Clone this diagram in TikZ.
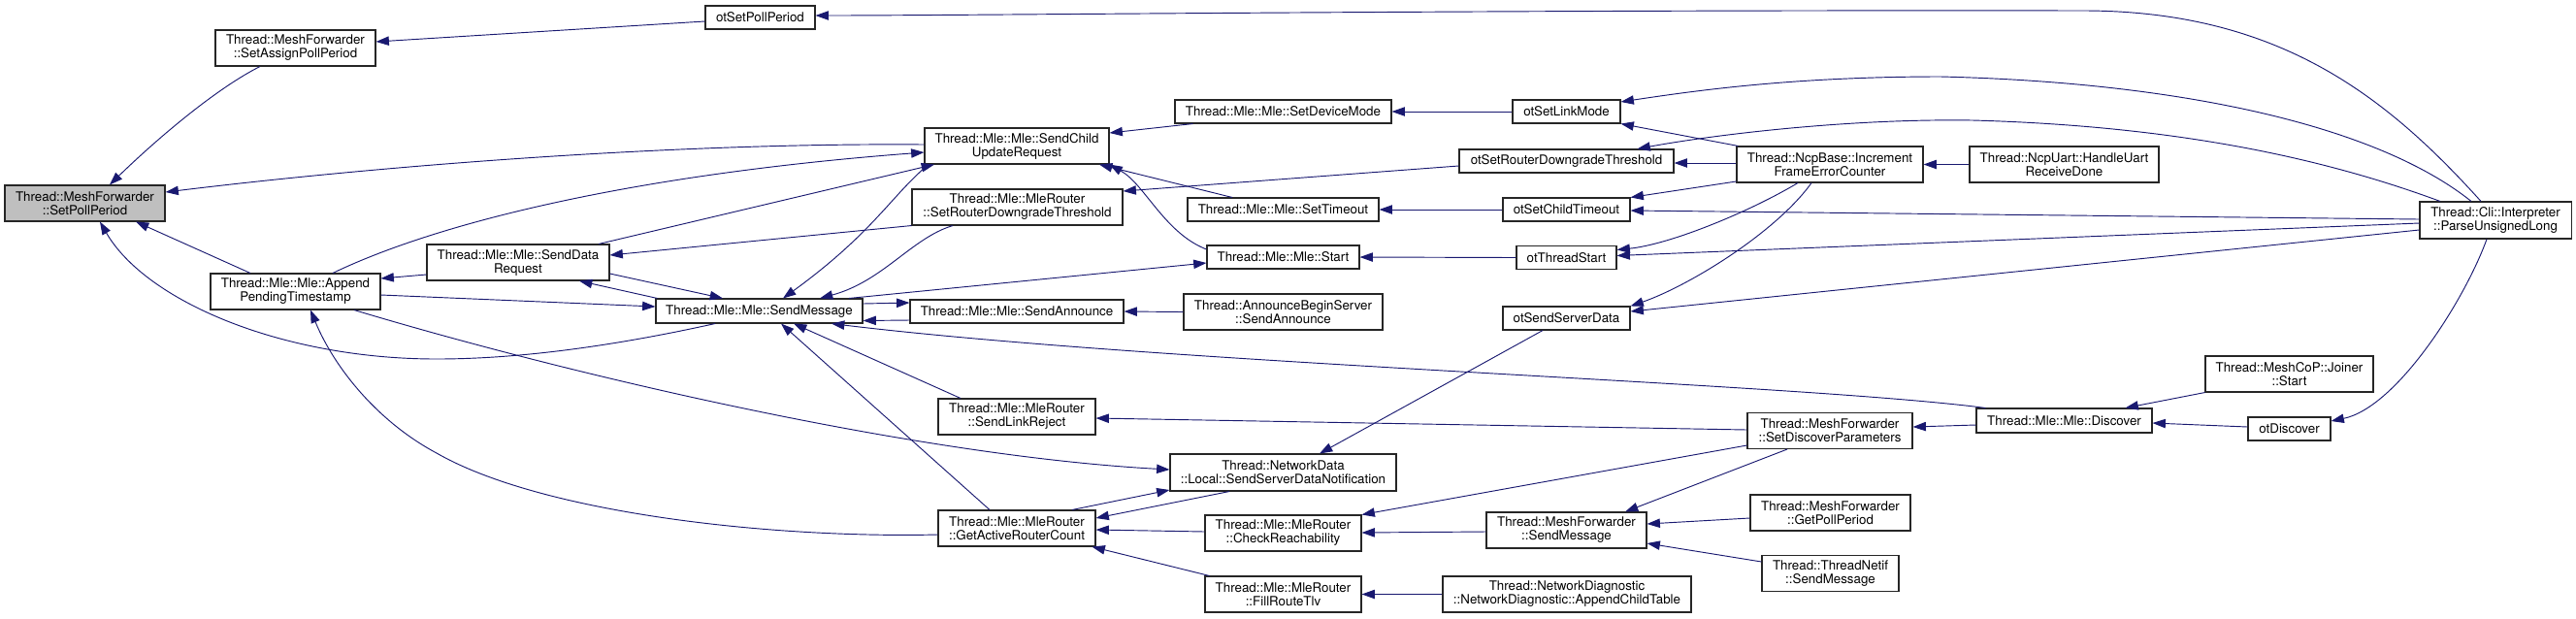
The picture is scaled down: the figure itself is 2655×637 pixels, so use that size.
\documentclass[tikz,border=0pt]{standalone}
\usepackage{fontspec}
\setmainfont{TeX Gyre Heros}
\usetikzlibrary{arrows.meta}
\definecolor{edgeblue}{HTML}{191970}
\definecolor{rootgray}{HTML}{BFBFBF}
\begin{document}
\begin{tikzpicture}[x=0.75pt,y=-0.75pt,
  box/.style n args={2}{draw=black!85, line width=0.8pt, minimum width=#1*0.75pt, minimum height=#2*0.75pt, inner sep=0pt, align=center, font=\fontsize{10}{10.5}\selectfont, text=black},
  e/.style={draw=edgeblue, line width=0.7pt, -{Triangle[length=10pt,width=7pt]}},
]
\useasboundingbox (0,0) rectangle (2655,637);
% nodes
\node[box={165}{37}, fill=rootgray] (spp) at (87.5,209.5) {Thread::MeshForwarder\\::SetPollPeriod};
\node[box={165}{37}] (sapp) at (304.5,49.5) {Thread::MeshForwarder\\::SetAssignPollPeriod};
\node[box={113}{24}] (otspp) at (783.5,18) {otSetPollPeriod};
\node[box={175}{37}] (apt) at (304.5,300.5) {Thread::Mle::Mle::Append\\PendingTimestamp};
\node[box={188}{37}] (sdr) at (534,270.5) {Thread::Mle::Mle::SendData\\Request};
\node[box={213}{25}] (smsg) at (782.5,320.5) {Thread::Mle::Mle::SendMessage};
\node[box={190}{37}] (scur) at (1048,150.5) {Thread::Mle::Mle::SendChild\\UpdateRequest};
\node[box={217}{37}] (srdt) at (1048.5,213.5) {Thread::Mle::MleRouter\\::SetRouterDowngradeThreshold};
\node[box={220}{24}] (sann) at (1048,321) {Thread::Mle::Mle::SendAnnounce};
\node[box={162}{37}] (slr) at (1048,429.5) {Thread::Mle::MleRouter\\::SendLinkReject};
\node[box={162}{37}] (garc) at (1048,544.5) {Thread::Mle::MleRouter\\::GetActiveRouterCount};
\node[box={233}{38}] (ssdn) at (1322.5,487) {Thread::NetworkData\\::Local::SendServerDataNotification};
\node[box={161}{37}] (cr) at (1322.5,549.5) {Thread::Mle::MleRouter\\::CheckReachability};
\node[box={161}{37}] (frt) at (1322.5,612.5) {Thread::Mle::MleRouter\\::FillRouteTlv};
\node[box={223}{24}] (sdm) at (1322.5,115) {Thread::Mle::Mle::SetDeviceMode};
\node[box={197}{24}] (sto) at (1322.5,216) {Thread::Mle::Mle::SetTimeout};
\node[box={157}{24}] (start) at (1322.5,265) {Thread::Mle::Mle::Start};
\node[box={205}{37}] (abs) at (1322.5,321.5) {Thread::AnnounceBeginServer\\::SendAnnounce};
\node[box={111}{24}] (otslm) at (1614.5,115) {otSetLinkMode};
\node[box={221}{24}] (otsrdt) at (1614.5,166) {otSetRouterDowngradeThreshold};
\node[box={131}{24}] (otsct) at (1614.5,216) {otSetChildTimeout};
\node[box={103}{24}] (otts) at (1614.5,265.5) {otThreadStart};
\node[box={131}{24}] (otssd) at (1614.5,328) {otSendServerData};
\node[box={165}{37}] (mfsm) at (1614.5,546.5) {Thread::MeshForwarder\\::SendMessage};
\node[box={256}{37}] (act) at (1615,612.5) {Thread::NetworkDiagnostic\\::NetworkDiagnostic::AppendChildTable};
\node[box={192}{37}] (ifec) at (1886,169.5) {Thread::NcpBase::Increment\\FrameErrorCounter};
\node[box={195}{37}] (hurd) at (2127.5,169.5) {Thread::NcpUart::HandleUart\\ReceiveDone};
\node[box={170}{37}] (sdp) at (1886,444) {Thread::MeshForwarder\\::SetDiscoverParameters};
\node[box={181}{25}] (disc) at (2127.5,433.5) {Thread::Mle::Mle::Discover};
\node[box={165}{37}] (gpp) at (1886.5,528.5) {Thread::MeshForwarder\\::GetPollPeriod};
\node[box={141}{37}] (tnsm) at (1886.5,591) {Thread::ThreadNetif\\::SendMessage};
\node[box={156}{38}] (pul) at (2572,227) {Thread::Cli::Interpreter\\::ParseUnsignedLong};
\node[box={173}{37}] (js) at (2359.5,385.5) {Thread::MeshCoP::Joiner\\::Start};
\node[box={85}{24}] (otd) at (2359.5,442) {otDiscover};
% edges
\draw[e] ([shift={(-36.5,0)}]sapp.south) .. controls (225,90) and (165,140) .. ([shift={(25.5,0)}]spp.north);
\draw[e] ([shift={(0,-1.5)}]scur.west) .. controls (700,147) and (400,170) .. ([shift={(0,-11.5)}]spp.east);
\draw[e] ([shift={(-46.5,0)}]apt.north) -- ([shift={(52.5,0)}]spp.south);
\draw[e] ([shift={(-45.5,0)}]smsg.south) .. controls (640,355) and (540,370) .. (450,370) .. controls (290,370) and (150,310) .. ([shift={(15.5,0)}]spp.south);
\draw[e] ([shift={(0,4)}]otspp.west) -- ([shift={(0,-6.5)}]sapp.east);
\draw[e] ([shift={(-15,0)}]pul.north) .. controls (2460,100) and (2350,12) .. (2150,11) .. controls (1500,10) and (1000,16) .. ([shift={(0,-2)}]otspp.east);
\draw[e] ([shift={(0,12.5)}]sdr.west) -- ([shift={(0,-13.5)}]apt.east);
\draw[e] ([shift={(38.5,0)}]apt.north) .. controls (450,230) and (650,180) .. ([shift={(0,6.5)}]scur.west);
\draw[e] ([shift={(83,0)}]sdr.north) -- ([shift={(-85,0)}]scur.south);
\draw[e] (srdt.south west) -- ([shift={(0,-7.5)}]sdr.east);
\draw[e] ([shift={(-91,0)}]scur.south) .. controls (920,200) and (900,240) .. ([shift={(24.5,0)}]smsg.north);
\draw[e] ([shift={(-66.5,0)}]srdt.south) .. controls (940,245) and (910,290) .. ([shift={(62.5,0)}]smsg.north);
\draw[e] ([shift={(92.5,0)}]smsg.north) -- ([shift={(0,6)}]start.west);
\draw[e] ([shift={(0,-8)}]start.west) .. controls (1200,240) and (1180,190) .. (scur.south east);
\draw[e] ([shift={(-52.5,0)}]sto.north) -- ([shift={(85,0)}]scur.south);
\draw[e] ([shift={(19,0)}]sdm.south west) -- ([shift={(0,-13.5)}]scur.east);
\draw[e] ([shift={(0,5)}]otsrdt.west) -- ([shift={(0,-16.5)}]srdt.east);
\draw[e] ([shift={(0,-7.5)}]smsg.east) -- ([shift={(0,-9)}]sann.west);
\draw[e] ([shift={(0,9)}]sann.west) -- ([shift={(0,10)}]smsg.east);
\draw[e] (abs.west) -- (sann.east);
\draw[e] (otslm.west) -- (sdm.east);
\draw[e] (otsct.west) -- (sto.east);
\draw[e] (otts.west) -- (start.east);
\draw[e] ([shift={(0,3.5)}]apt.east) -- ([shift={(0,-4.5)}]smsg.west);
\draw[e] ([shift={(0,11.5)}]sdr.east) -- ([shift={(-37.5,0)}]smsg.north);
\draw[e] ([shift={(2,0)}]smsg.north west) -- ([shift={(63,0)}]sdr.south);
\draw[e] ([shift={(60.5,0)}]apt.south) .. controls (600,390) and (950,470) .. ([shift={(0,-3)}]ssdn.west);
\draw[e] ([shift={(0,6.5)}]garc.west) .. controls (800,555) and (560,530) .. (450,467) .. controls (390,435) and (345,380) .. ([shift={(15.5,0)}]apt.south);
\draw[e] ([shift={(-28,0)}]garc.north) -- ([shift={(22.5,0)}]smsg.south);
\draw[e] ([shift={(-58,0)}]slr.north) -- ([shift={(35.5,0)}]smsg.south);
\draw[e] ([shift={(10,0)}]disc.north west) .. controls (1850,395) and (1200,375) .. ([shift={(74.5,0)}]smsg.south);
\draw[e] ([shift={(0,-1)}]sdp.west) -- ([shift={(0,1.5)}]slr.east);
\draw[e] ([shift={(57,0)}]garc.north) -- ([shift={(0,18)}]ssdn.west);
\draw[e] ([shift={(-55.5,0)}]ssdn.south) -- ([shift={(0,-10.5)}]garc.east);
\draw[e] ([shift={(-24.5,0)}]otssd.south) -- ([shift={(37.5,0)}]ssdn.north);
\draw[e] ([shift={(0,-1.5)}]cr.west) -- ([shift={(0,1.5)}]garc.east);
\draw[e] ([shift={(5,0)}]frt.north west) -- ([shift={(-4,0)}]garc.south east);
\draw[e] ([shift={(0,15)}]sdp.west) -- (cr.north east);
\draw[e] ([shift={(0,1.5)}]mfsm.west) -- ([shift={(0,-0.5)}]cr.east);
\draw[e] (act.west) -- (frt.east);
\draw[e] ([shift={(-44,0)}]sdp.south) -- ([shift={(60.5,0)}]mfsm.north);
\draw[e] ([shift={(0,5.5)}]gpp.west) -- ([shift={(0,-6.5)}]mfsm.east);
\draw[e] ([shift={(0,-12)}]tnsm.west) -- ([shift={(0,13.5)}]mfsm.east);
\draw[e] ([shift={(0,4.5)}]disc.west) -- ([shift={(0,-4)}]sdp.east);
\draw[e] (js.south west) -- ([shift={(-28,0)}]disc.north east);
\draw[e] ([shift={(0,-2)}]otd.west) -- ([shift={(0,2.5)}]disc.east);
\draw[e] ([shift={(-9,0)}]pul.south) .. controls (2540,310) and (2470,420) .. ([shift={(0,-8)}]otd.east);
\draw[e] ([shift={(-25,0)}]pul.north) .. controls (2450,130) and (2250,85) .. (2000,79) .. controls (1850,79) and (1750,93) .. ([shift={(0,-10)}]otslm.east);
\draw[e] ([shift={(2,0)}]ifec.north west) -- (otslm.south east);
\draw[e] ([shift={(-57,0)}]pul.north) .. controls (2400,165) and (2250,130) .. (2033,124) .. controls (1900,122) and (1760,140) .. ([shift={(-38,0)}]otsrdt.north east);
\draw[e] ([shift={(0,-1.5)}]ifec.west) -- ([shift={(0,2)}]otsrdt.east);
\draw[e] ([shift={(0,17.5)}]ifec.west) -- (otsct.north east);
\draw[e] ([shift={(0,-1)}]pul.west) -- ([shift={(0,1)}]otsct.east);
\draw[e] ([shift={(-33,0)}]ifec.south) .. controls (1800,220) and (1720,252) .. ([shift={(0,-8)}]otts.east);
\draw[e] ([shift={(0,3)}]pul.west) -- ([shift={(0,-2)}]otts.east);
\draw[e] ([shift={(-19,0)}]ifec.south) .. controls (1830,240) and (1740,295) .. (otssd.north east);
\draw[e] ([shift={(0,10)}]pul.west) -- ([shift={(0,-7)}]otssd.east);
\draw[e] (hurd.west) -- (ifec.east);
\end{tikzpicture}
\end{document}
